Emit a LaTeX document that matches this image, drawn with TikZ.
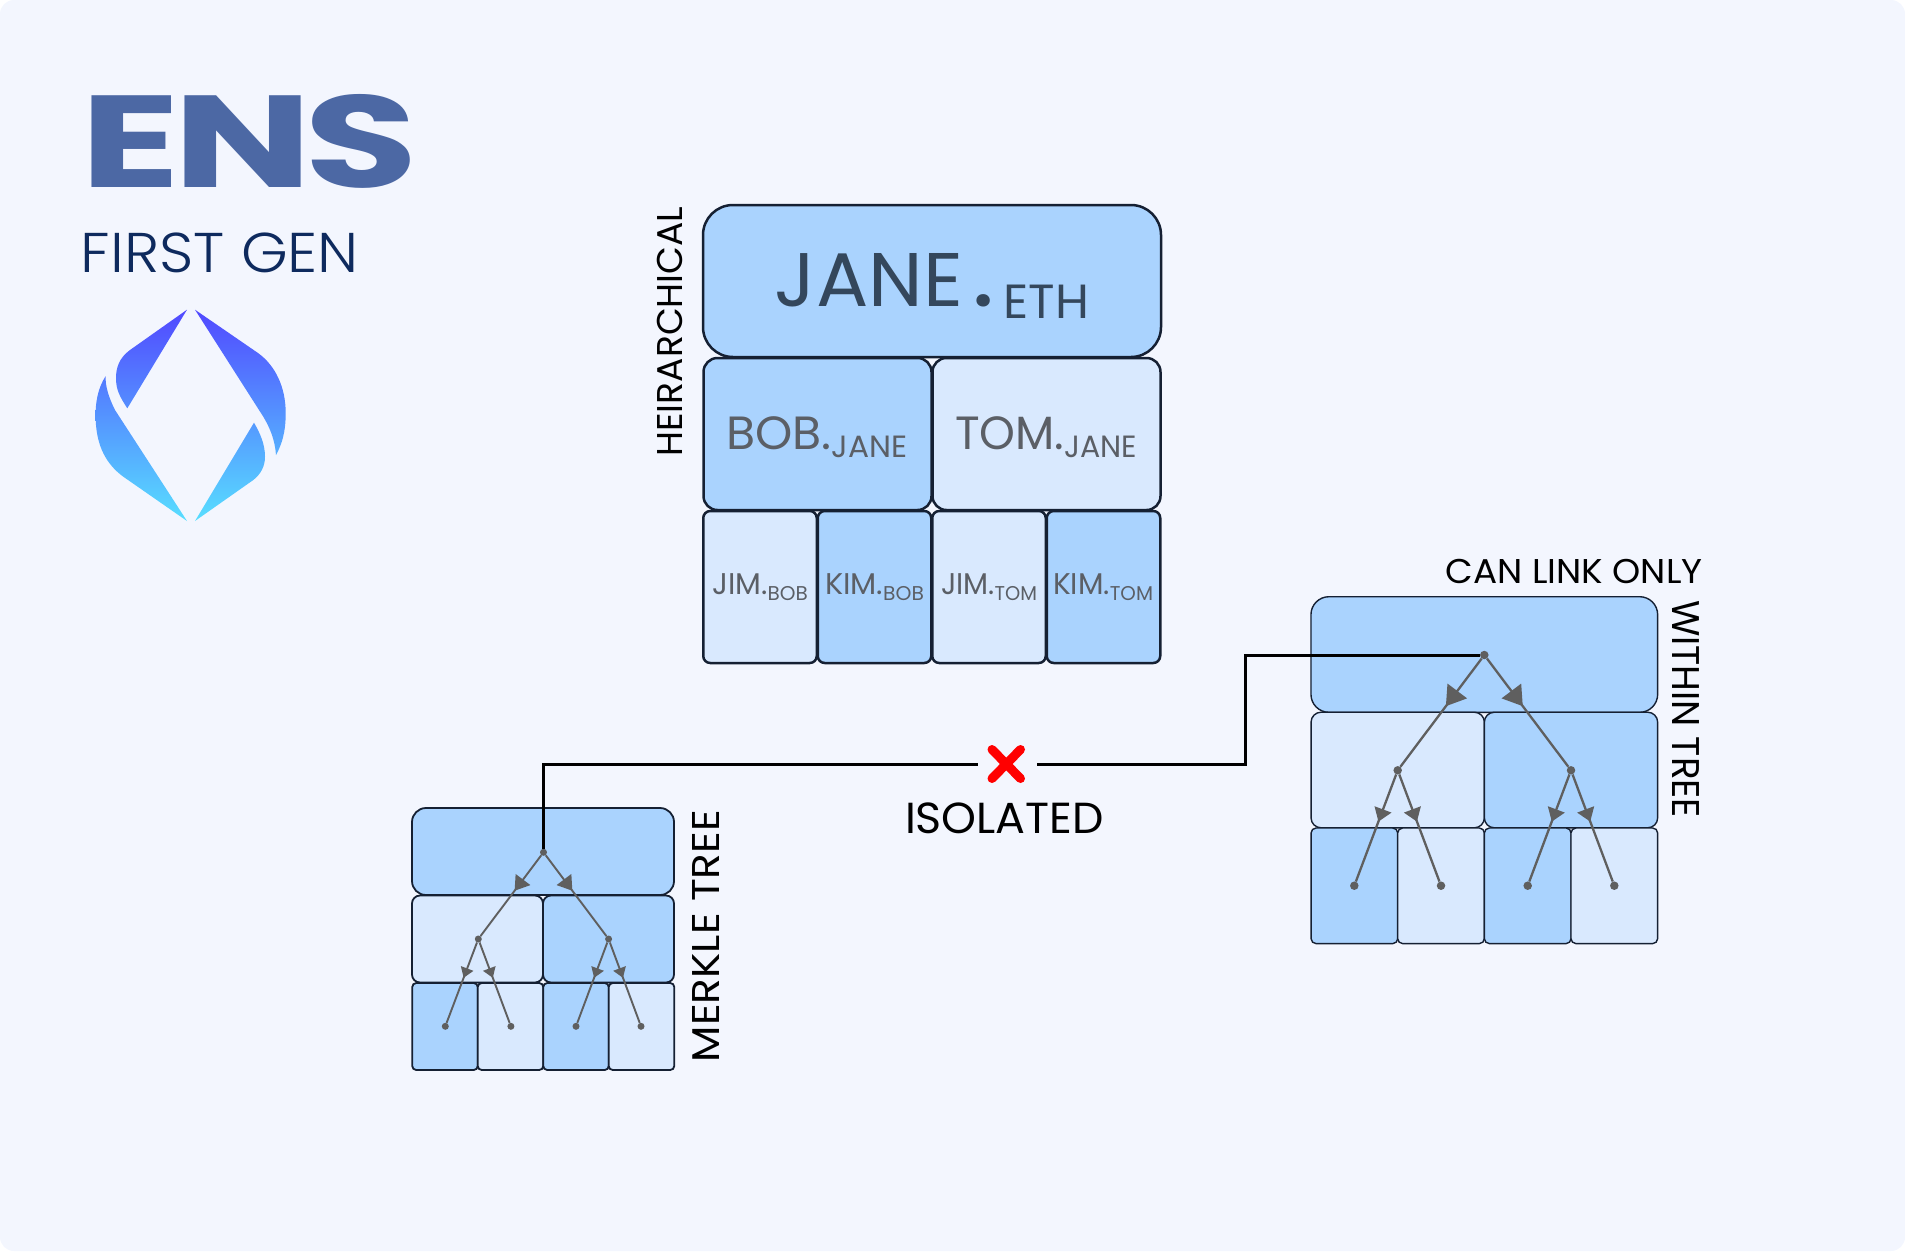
\documentclass[tikz,border=0pt]{standalone}
\usepackage{fontspec}
\setmainfont{Poppins}
\newfontfamily\thinfont{Poppins Light}
\newfontfamily\heavyfont{Poppins Bold}
\newfontfamily\boldfont{Poppins SemiBold}
\usetikzlibrary{arrows.meta,decorations.markings}

\definecolor{pagebg}{HTML}{F3F6FE}
\definecolor{deepblue}{HTML}{AAD3FE}
\definecolor{paleblue}{HTML}{D9E9FE}
\definecolor{edgegrey}{HTML}{5F5F5F}
\definecolor{boxline}{HTML}{152033}
\definecolor{janeink}{HTML}{34475C}
\definecolor{nameink}{HTML}{5B5F66}
\definecolor{logoblue}{HTML}{4C68A4}
\definecolor{navyink}{HTML}{0E2A5E}
\definecolor{crossred}{HTML}{FF0000}
\definecolor{logotop}{HTML}{5148FF}
\definecolor{logomid}{HTML}{5296FF}
\definecolor{logobot}{HTML}{58DFFF}

% text forced to a given width and height
\newcommand{\fitlabel}[3]{\resizebox*{#1pt}{#2pt}{#3}}
\newcommand{\ensname}[6][.]{\fontsize{#2}{#2}\selectfont #3#1\raisebox{-#6pt}{\fontsize{#4}{#4}\selectfont #5}}

\tikzset{
    cell/.style={draw=boxline, outer sep=0pt, inner sep=0pt},
    treedot/.style={circle, fill=edgegrey, inner sep=0pt, minimum size=#1},
    treeedge/.style n args={3}{draw=edgegrey, line width=#1, postaction={decorate},
        decoration={markings, mark=at position 0.44 with {\arrow[edgegrey]{Triangle[length=#2pt,width=#3pt]}}}},
    linkline/.style={black, line width=3pt},
    crossline/.style={crossred, line width=9pt, line cap=round},
    sidelabel/.style={black, inner sep=0pt},
}

\begin{document}
\begin{tikzpicture}[x=1pt, y=-1pt]
    \useasboundingbox (0,0) rectangle (1905,1251);
    \fill[pagebg, rounded corners=14pt] (0,0) rectangle (1905,1251);

    % logo
    \node[inner sep=0pt, logoblue] (enstext) at (249.5,141) {\fitlabel{338}{94}{\heavyfont\fontsize{130}{130}\selectfont E\hspace{-.04em}N\hspace{-.04em}S}};
    \node[inner sep=0pt, navyink] (gentext) at (220,253) {\fitlabel{278}{40}{\thinfont\fontsize{57}{57}\selectfont FIRST GEN}};
    \begin{scope}
        \clip (187,309.7) -- (130,350) .. controls (119,358) and (116,368) .. (116,378)
            .. controls (116,390) and (120,397) .. (127.3,408.3) -- cycle
            (195,309.7) -- (258,353) .. controls (276,366) and (285.7,388) .. (285.7,413)
            .. controls (285.7,432) and (282,444) .. (276,455)
            .. controls (275,440) and (270,428) .. (263.3,416.7) -- cycle
            (195,521) -- (253.3,480) .. controls (261,474) and (265,466) .. (265,456.7)
            .. controls (265,444) and (260,433) .. (254,422.7) -- cycle
            (187,521) -- (123.3,476.7) .. controls (106,464) and (96.7,446) .. (95.7,420)
            .. controls (95,402) and (98,388) .. (105.7,376)
            .. controls (105,386) and (109,398) .. (115,410) -- cycle;
        \shade[top color=logotop, middle color=logomid, bottom color=logobot] (90,309) rectangle (290,522);
    \end{scope}

    % name hierarchy
    \node[cell, fill=deepblue, line width=2.5pt, rounded corners=30pt, minimum width=458pt, minimum height=152pt] (jane) at (932,281) {};
    \foreach \nm/\cx/\col in {bob/817.5/deepblue, tom/1046.5/paleblue} {
        \node[cell, fill=\col, line width=2.5pt, rounded corners=14pt, minimum width=228pt, minimum height=152pt] (\nm) at (\cx,434) {};
    }
    \foreach \nm/\cx/\col in {jimbob/760/paleblue, kimbob/874.5/deepblue, jimtom/989/paleblue, kimtom/1103.5/deepblue} {
        \node[cell, fill=\col, line width=2.5pt, rounded corners=7pt, minimum width=113.5pt, minimum height=152pt] (\nm) at (\cx,587) {};
    }
    \node[inner sep=0pt, janeink] (janelabel) at (932,285.5) {\fitlabel{314}{65}{\ensname[\hspace{.13em}{\boldfont.}\hspace{.13em}]{76}{JANE}{48}{ETH}{12}}};
    \node[inner sep=0pt, nameink] (boblabel) at (817,437.5) {\fitlabel{181}{41}{\ensname{47}{BOB}{31}{JANE}{8}}};
    \node[inner sep=0pt, nameink] (tomlabel) at (1046,437.5) {\fitlabel{182}{41}{\ensname{47}{TOM}{31}{JANE}{8}}};
    \node[inner sep=0pt, nameink] (jimboblabel) at (760,587.5) {\fitlabel{95.5}{27}{\ensname{30}{JIM}{20}{BOB}{6}}};
    \node[inner sep=0pt, nameink] (kimboblabel) at (874.5,587.5) {\fitlabel{99}{27}{\ensname{30}{KIM}{20}{BOB}{6}}};
    \node[inner sep=0pt, nameink] (jimtomlabel) at (989,587.5) {\fitlabel{96}{27}{\ensname{30}{JIM}{20}{TOM}{6}}};
    \node[inner sep=0pt, nameink] (kimtomlabel) at (1103,587.5) {\fitlabel{100}{27}{\ensname{30}{KIM}{20}{TOM}{6}}};
    \node[sidelabel, rotate=90] (heirlabel) at (670,331.5) {\fitlabel{250}{25.5}{\fontsize{36}{36}\selectfont HEIRARCHICAL}};

    % merkle tree, left
    \node[cell, fill=deepblue, line width=1.8pt, rounded corners=14pt, minimum width=262pt, minimum height=87pt] (topL) at (543,851.5) {};
    \foreach \nm/\cx/\col in {aL/477.5/paleblue, bL/608.5/deepblue} {
        \node[cell, fill=\col, line width=1.8pt, rounded corners=8pt, minimum width=131pt, minimum height=87pt] (\nm) at (\cx,939) {};
    }
    \foreach \nm/\cx/\col in {cL/445/deepblue, dL/510.5/paleblue, eL/576/deepblue, fL/641.5/paleblue} {
        \node[cell, fill=\col, line width=1.8pt, rounded corners=4pt, minimum width=65.5pt, minimum height=87pt] (\nm) at (\cx,1026.5) {};
    }
    \node[sidelabel, rotate=90] (merklelabel) at (706,936) {\fitlabel{252}{27}{\fontsize{38}{38}\selectfont MERKLE TREE}};

    % can link tree, right
    \node[cell, fill=deepblue, line width=1.4pt, rounded corners=18pt, minimum width=346.7pt, minimum height=115.6pt] (topR) at (1484.3,654.5) {};
    \foreach \nm/\cx/\col in {aR/1397.7/paleblue, bR/1571/deepblue} {
        \node[cell, fill=\col, line width=1.4pt, rounded corners=10pt, minimum width=173.3pt, minimum height=115.6pt] (\nm) at (\cx,770) {};
    }
    \foreach \nm/\cx/\col in {cR/1354.4/deepblue, dR/1441/paleblue, eR/1527.7/deepblue, fR/1614.3/paleblue} {
        \node[cell, fill=\col, line width=1.4pt, rounded corners=5pt, minimum width=86.7pt, minimum height=115.6pt] (\nm) at (\cx,885.8) {};
    }
    \node[sidelabel] (canlabel) at (1574,571) {\fitlabel{257}{24.5}{\fontsize{35}{35}\selectfont CAN LINK ONLY}};
    \node[sidelabel, rotate=-90] (withinlabel) at (1686,709) {\fitlabel{218}{27}{\fontsize{38}{38}\selectfont WITHIN TREE}};

    % tree dots
    \node[treedot=7pt] (rootL) at (543.5,852.3) {};
    \node[treedot=7pt] (midaL) at (478.3,939) {};
    \node[treedot=7pt] (midbL) at (608.6,939) {};
    \foreach \nm/\cx in {leafcL/445.3, leafdL/510.9, leafeL/576, leaffL/641} {
        \node[treedot=7pt] (\nm) at (\cx,1026.3) {};
    }
    \node[treedot=8.5pt] (rootR) at (1484.3,655) {};
    \node[treedot=8.5pt] (midaR) at (1397.7,770.3) {};
    \node[treedot=8.5pt] (midbR) at (1571,770.3) {};
    \foreach \nm/\cx in {leafcR/1354.3, leafdR/1441, leafeR/1527.7, leaffR/1614.3} {
        \node[treedot=8.5pt] (\nm) at (\cx,885.7) {};
    }

    % isolated link
    \node[inner sep=0pt, outer sep=0pt, minimum width=59pt, minimum height=29pt] (nox) at (1007.5,764) {};
    \draw[crossline] (992,749.5) -- (1020.5,778.5);
    \draw[crossline] (992,778.5) -- (1020.5,749.5);
    \coordinate (bendR) at (1245,764);
    \draw[linkline] (rootL) |- (nox.west);
    \draw[linkline] (nox.east) -- (bendR) |- (rootR);
    \node[sidelabel] (isolabel) at (1004.5,818) {\fitlabel{199}{31}{\fontsize{44}{44}\selectfont ISOLATED}};

    % tree edges
    \foreach \a/\b in {rootL/midaL, rootL/midbL} {
        \draw[treeedge={1.9pt}{14}{18}] (\a) -- (\b);
    }
    \foreach \a/\b in {midaL/leafcL, midaL/leafdL, midbL/leafeL, midbL/leaffL} {
        \draw[treeedge={1.9pt}{10}{13}] (\a) -- (\b);
    }
    \foreach \a/\b in {rootR/midaR, rootR/midbR} {
        \draw[treeedge={2.3pt}{19}{24}] (\a) -- (\b);
    }
    \foreach \a/\b in {midaR/leafcR, midaR/leafdR, midbR/leafeR, midbR/leaffR} {
        \draw[treeedge={2.3pt}{13}{17.6}] (\a) -- (\b);
    }
\end{tikzpicture}
\end{document}
